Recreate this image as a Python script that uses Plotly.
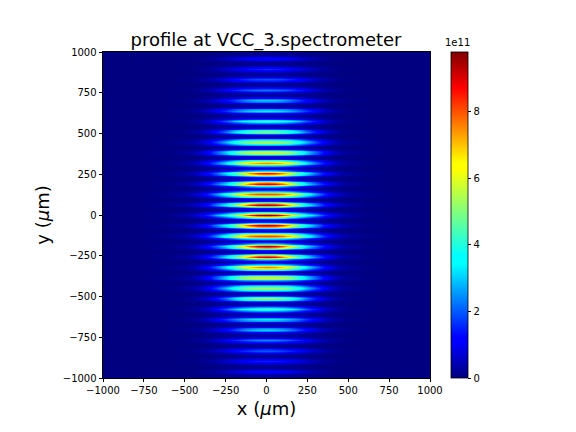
import plotly.graph_objects as go

# Half-width x stations (um); the image is mirrored about x = 0
x_half = [0, 50, 100, 150, 200, 250, 300, 350, 400, 450, 500, 600, 750, 1000]

# Peak intensity (1e11) of each fringe along x_half, fringe index -16 ... 16 (y = index * spacing)
fringe_spacing = 64
fringe_m16 = [0.9, 0.85, 0.75, .6, .45, .3, .2, .12, .07, .04, .02, .01, 0, 0]
fringe_m15 = [1.2, 1.15, 1.05, .9, .7, .5, .32, .2, .1, .05, .03, .01, 0, 0]
fringe_m14 = [1.5, 1.45, 1.3, 1.1, .9, .65, .42, .25, .14, .07, .04, .01, 0, 0]
fringe_m13 = [2.0, 1.9, 1.75, 1.5, 1.2, .85, .55, .35, .2, .1, .05, .02, 0, 0]
fringe_m12 = [2.4, 2.35, 2.15, 1.85, 1.5, 1.1, .7, .42, .24, .12, .06, .02, 0, 0]
fringe_m11 = [3.1, 3.0, 2.75, 2.3, 1.75, 1.25, .8, .48, .28, .15, .08, .02, 0, 0]
fringe_m10 = [3.3, 3.25, 3.05, 2.7, 2.2, 1.65, 1.1, .65, .35, .18, .09, .03, 0, 0]
fringe_m9 = [4.4, 4.3, 4.0, 3.5, 2.8, 2.0, 1.3, .75, .4, .2, .1, .03, 0, 0]
fringe_m8 = [5.3, 5.15, 4.8, 4.1, 3.2, 2.2, 1.4, .8, .42, .2, .1, .03, 0, 0]
fringe_m7 = [5.5, 5.4, 5.2, 4.7, 3.8, 2.8, 1.85, 1.1, .6, .32, .18, .05, 0, 0]
fringe_m6 = [5.8, 5.75, 5.55, 5.1, 4.2, 3.1, 2.1, 1.25, .7, .35, .2, .06, 0, 0]
fringe_m5 = [7.6, 7.4, 6.8, 5.9, 4.6, 3.3, 2.2, 1.35, .8, .4, .22, .07, .01, 0]
fringe_m4 = [9.0, 8.7, 7.6, 6.0, 4.6, 3.4, 2.2, 1.4, .85, .45, .25, .08, .01, 0]
fringe_m3 = [9.3, 9.0, 7.9, 6.2, 4.7, 3.3, 2.2, 1.4, .85, .45, .25, .08, .01, 0]
fringe_m2 = [8.1, 8.05, 7.7, 6.7, 5.3, 3.9, 2.6, 1.6, .95, .55, .3, .1, .02, 0]
fringe_m1 = [9.4, 9.2, 8.3, 6.6, 5.0, 3.6, 2.5, 1.5, .95, .55, .3, .1, .02, 0]
fringe_0 = [9.8, 9.5, 8.5, 6.7, 5.2, 3.9, 2.8, 1.7, 1.05, .6, .35, .1, .02, 0]
fringe_p1 = [9.3, 9.1, 8.3, 6.6, 5.0, 3.6, 2.5, 1.5, .95, .55, .3, .1, .02, 0]
fringe_p2 = [8.0, 7.95, 7.6, 6.7, 5.3, 3.9, 2.6, 1.6, .95, .55, .3, .1, .02, 0]
fringe_p3 = [9.2, 8.9, 7.9, 6.2, 4.7, 3.3, 2.2, 1.4, .85, .45, .25, .08, .01, 0]
fringe_p4 = [8.8, 8.5, 7.5, 6.0, 4.6, 3.4, 2.2, 1.4, .85, .45, .25, .08, .01, 0]
fringe_p5 = [7.5, 7.3, 6.8, 5.9, 4.6, 3.3, 2.2, 1.35, .8, .4, .22, .07, .01, 0]
fringe_p6 = [5.8, 5.75, 5.55, 5.1, 4.2, 3.1, 2.1, 1.25, .7, .35, .2, .06, 0, 0]
fringe_p7 = [5.6, 5.5, 5.25, 4.7, 3.8, 2.8, 1.85, 1.1, .6, .32, .18, .05, 0, 0]
fringe_p8 = [5.2, 5.05, 4.7, 4.0, 3.2, 2.2, 1.4, .8, .42, .2, .1, .03, 0, 0]
fringe_p9 = [4.2, 4.1, 3.9, 3.4, 2.8, 2.0, 1.3, .75, .4, .2, .1, .03, 0, 0]
fringe_p10 = [3.3, 3.25, 3.05, 2.7, 2.2, 1.65, 1.1, .65, .35, .18, .09, .03, 0, 0]
fringe_p11 = [3.0, 2.95, 2.7, 2.25, 1.75, 1.25, .8, .48, .28, .15, .08, .02, 0, 0]
fringe_p12 = [2.3, 2.25, 2.1, 1.85, 1.5, 1.1, .7, .42, .24, .12, .06, .02, 0, 0]
fringe_p13 = [1.9, 1.85, 1.75, 1.5, 1.2, .85, .55, .35, .2, .1, .05, .02, 0, 0]
fringe_p14 = [1.6, 1.5, 1.35, 1.1, .9, .65, .42, .25, .14, .07, .04, .01, 0, 0]
fringe_p15 = [1.2, 1.15, 1.05, .9, .7, .5, .32, .2, .1, .05, .03, .01, 0, 0]
fringe_p16 = [0.9, 0.85, 0.75, .6, .45, .3, .2, .12, .07, .04, .02, .01, 0, 0]

# Share of a fringe's peak seen at 0, 8, 16, 24, 32 um from the fringe centre
cross_section = [1.0, 0.78, 0.38, 0.16, 0.08]
cross_section_wide = [1.0, 0.9, 0.5, 0.2, 0.07]
wide_fringes = [-7, -6, -5, -2, 2, 5, 6, 7]

fringes = [fringe_m16, fringe_m15, fringe_m14, fringe_m13, fringe_m12, fringe_m11, fringe_m10,
           fringe_m9, fringe_m8, fringe_m7, fringe_m6, fringe_m5, fringe_m4, fringe_m3,
           fringe_m2, fringe_m1, fringe_0, fringe_p1, fringe_p2, fringe_p3, fringe_p4,
           fringe_p5, fringe_p6, fringe_p7, fringe_p8, fringe_p9, fringe_p10, fringe_p11,
           fringe_p12, fringe_p13, fringe_p14, fringe_p15, fringe_p16]
fringe_index = list(range(-16, 17))

jet = [[0, "rgb(0,0,128)"], [0.11, "rgb(0,0,255)"], [0.125, "rgb(0,0,255)"],
       [0.35, "rgb(0,255,255)"], [0.375, "rgb(0,255,255)"], [0.64, "rgb(255,255,0)"],
       [0.66, "rgb(255,255,0)"], [0.89, "rgb(255,0,0)"], [1, "rgb(128,0,0)"]]

title = "profile at VCC_3.spectrometer"
tick_x = list(range(-1000, 1001, 250))
cbar_ticks = [0, 2, 4, 6, 8]

# Assemble the table of cells from the values above
x = [-v for v in reversed(x_half[1:])] + x_half
y, z = [], []
step = fringe_spacing // (2 * (len(cross_section) - 1))
for k, row in zip(fringe_index, fringes):
    shape = cross_section_wide if k in wide_fringes else cross_section
    for n in range(-len(shape) + 1, len(shape) - 1):
        yy = k * fringe_spacing + n * step
        half = [v * shape[abs(n)] for v in row]
        y.append(yy)
        z.append(list(reversed(half[1:])) + half)

font = "DejaVu Sans"
fig = go.Figure(go.Heatmap(
    x=x, y=y, z=z, zmin=0, zmax=9.8, colorscale=jet, zsmooth="best",
    colorbar=dict(
        thickness=17, thicknessmode="pixels", len=326, lenmode="pixels",
        x=(451 - 103) / 327, xanchor="left", xpad=0, y=0, yanchor="bottom", ypad=0,
        tickvals=cbar_ticks, ticktext=[str(v) for v in cbar_ticks],
        ticks="outside", ticklen=3.5, tickwidth=0.8, tickcolor="black",
        outlinecolor="black", outlinewidth=0.8, tickfont=dict(size=10, color="black", family=font),
    ),
))
axis = dict(range=[-1000, 1000], tickvals=tick_x, ticks="outside", ticklen=3.5, tickwidth=0.8,
            tickcolor="black", showline=True, mirror=True, linecolor="black", linewidth=0.8,
            showgrid=False, zeroline=False, tickfont=dict(size=10, color="black", family=font))
fig.update_layout(
    width=576, height=432, margin=dict(l=103, r=146, t=52, b=54, pad=0),
    paper_bgcolor="white", plot_bgcolor="white", font=dict(family=font, color="black"),
    title=dict(text=title, x=266 / 576, xanchor="center", y=1 - 40 / 432, yanchor="middle",
               font=dict(size=18, family=font, color="black")),
    xaxis=dict(axis, title=dict(text="x (<i>μ</i>m)", font=dict(size=18, family=font), standoff=6)),
    yaxis=dict(axis, title=dict(text="y (<i>μ</i>m)", font=dict(size=18, family=font), standoff=8)),
    annotations=[dict(text="1e11", xref="paper", yref="paper", x=(443 - 103) / 327, y=1.005,
                      xanchor="left", yanchor="bottom", showarrow=False,
                      font=dict(size=10, family=font, color="black"))],
)
fig.write_html("out.html", config={"displayModeBar": False},
               post_script="document.body.style.margin='0';")
